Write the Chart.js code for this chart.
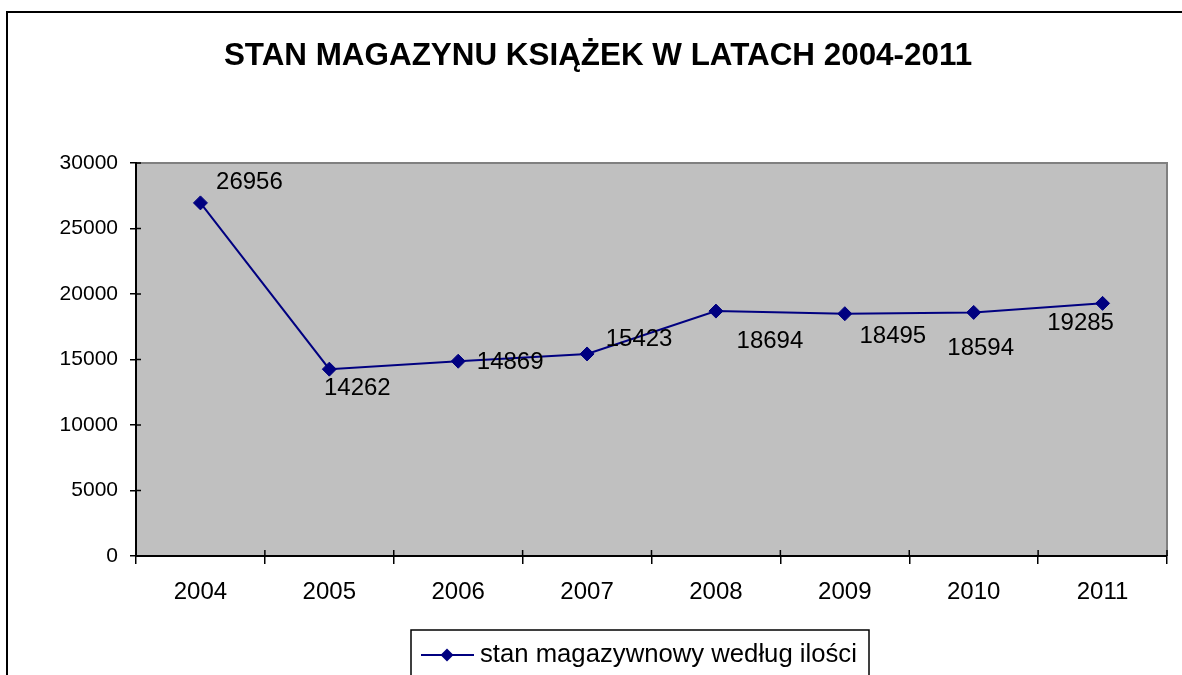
<!DOCTYPE html>
<html>
<head>
<meta charset="utf-8">
<script src="https://cdn.jsdelivr.net/npm/chart.js@4/dist/chart.umd.min.js"></script>
<style>
html,body{margin:0;padding:0;background:#fff;}
canvas{display:block;}
</style>
</head>
<body>
<canvas id="c" width="1182" height="675"></canvas>
<script>
const titleText = 'STAN MAGAZYNU KSIĄŻEK W LATACH 2004-2011';
const seriesName = 'stan magazywnowy według ilości';
const years = ['2004','2005','2006','2007','2008','2009','2010','2011'];
const stock = [26956, 14262, 14869, 15423, 18694, 18495, 18594, 19285];
const yTicks = [0, 5000, 10000, 15000, 20000, 25000, 30000];

// label offsets (pixels, relative to each point) – style only
const labelDX = [49, 28, 52, 52, 54, 48, 7, -22];
const labelDY = [-21, 19, 1, -15, 30, 23, 36, 20];

const FONT = "'Liberation Sans', Arial, sans-serif";

const frame = {
  id: 'frame',
  beforeDraw(chart) {
    const ctx = chart.ctx, a = chart.chartArea;
    ctx.save();
    ctx.fillStyle = '#fff';
    ctx.fillRect(0, 0, chart.width, chart.height);
    ctx.strokeStyle = '#000';
    ctx.lineWidth = 2;
    ctx.strokeRect(7, 12, chart.width + 20, chart.height + 20);
    ctx.fillStyle = '#c0c0c0';
    ctx.fillRect(a.left, a.top, a.right - a.left, a.bottom - a.top);
    ctx.strokeStyle = '#808080';
    ctx.lineWidth = 2;
    ctx.beginPath();
    ctx.moveTo(a.left, a.top);
    ctx.lineTo(a.right, a.top);
    ctx.lineTo(a.right, a.bottom);
    ctx.stroke();
    // title
    ctx.fillStyle = '#000';
    ctx.font = "bold 31.4px " + FONT;
    ctx.textAlign = 'center';
    ctx.textBaseline = 'middle';
    ctx.fillText(titleText, 598, 56);
    ctx.restore();
  },
  afterDraw(chart) {
    const ctx = chart.ctx, a = chart.chartArea;
    const xs = chart.scales.x, ys = chart.scales.y;
    ctx.save();
    // inner parts of tick marks
    ctx.strokeStyle = '#000';
    ctx.lineWidth = 1.5;
    ctx.beginPath();
    const step = xs.getPixelForTick(1) - xs.getPixelForTick(0);
    for (let i = 0; i <= years.length; i++) {
      const px = (i === years.length) ? a.right : (xs.getPixelForTick(i) - step / 2);
      ctx.moveTo(px, a.bottom);
      ctx.lineTo(px, a.bottom - 6);
    }
    yTicks.forEach(v => {
      const py = ys.getPixelForValue(v);
      ctx.moveTo(a.left, py);
      ctx.lineTo(a.left + 5, py);
    });
    ctx.stroke();
    // data labels
    const meta = chart.getDatasetMeta(0);
    ctx.fillStyle = '#000';
    ctx.font = "24px " + FONT;
    ctx.textAlign = 'center';
    ctx.textBaseline = 'middle';
    meta.data.forEach((pt, i) => {
      ctx.fillText(String(stock[i]), pt.x + labelDX[i], pt.y + labelDY[i]);
    });
    // legend
    const lx = 411, ly = 630, lw = 458, lh = 60;
    ctx.fillStyle = '#fff';
    ctx.fillRect(lx, ly, lw, lh);
    ctx.strokeStyle = '#000';
    ctx.lineWidth = 1.5;
    ctx.strokeRect(lx, ly, lw, lh);
    const cy = 655;
    ctx.strokeStyle = '#000080';
    ctx.lineWidth = 2;
    ctx.beginPath();
    ctx.moveTo(421, cy);
    ctx.lineTo(474, cy);
    ctx.stroke();
    ctx.fillStyle = '#000080';
    ctx.beginPath();
    ctx.moveTo(447 - 6.5, cy);
    ctx.lineTo(447, cy - 6.5);
    ctx.lineTo(447 + 6.5, cy);
    ctx.lineTo(447, cy + 6.5);
    ctx.closePath();
    ctx.fill();
    ctx.fillStyle = '#000';
    ctx.font = "25.7px " + FONT;
    ctx.textAlign = 'left';
    ctx.fillText(chart.data.datasets[0].label, 480, cy);
    ctx.restore();
  }
};

new Chart(document.getElementById('c'), {
  type: 'line',
  data: {
    labels: years,
    datasets: [{
      label: seriesName,
      data: stock,
      borderColor: '#000080',
      backgroundColor: '#000080',
      borderWidth: 2,
      pointStyle: 'rectRot',
      pointRadius: 7,
      pointBorderWidth: 1,
      pointBackgroundColor: '#000080',
      pointBorderColor: '#000080',
      tension: 0,
      fill: false
    }]
  },
  options: {
    responsive: false,
    animation: false,
    layout: { padding: { left: 0, top: 163, right: 15, bottom: 0 } },
    plugins: { legend: { display: false }, title: { display: false }, tooltip: { enabled: false } },
    scales: {
      x: {
        offset: true,
        grid: { offset: true, drawOnChartArea: false, drawTicks: true, tickLength: 8, color: '#000', lineWidth: 1.5 },
        border: { color: '#000', width: 2 },
        ticks: { font: { size: 24, family: FONT }, color: '#000', padding: 14, maxRotation: 0 },
        afterFit(s) { s.height = 119; }
      },
      y: {
        min: 0, max: 30000,
        afterBuildTicks(s) { s.ticks = yTicks.map(v => ({ value: v })); },
        ticks: { font: { size: 21, family: FONT }, color: '#000', padding: 12, callback: v => String(v) },
        grid: { drawOnChartArea: false, tickLength: 6, color: '#000', lineWidth: 1.5 },
        border: { color: '#000', width: 2 },
        afterFit(s) { s.width = 136; }
      }
    }
  },
  plugins: [frame]
});
</script>
</body>
</html>
